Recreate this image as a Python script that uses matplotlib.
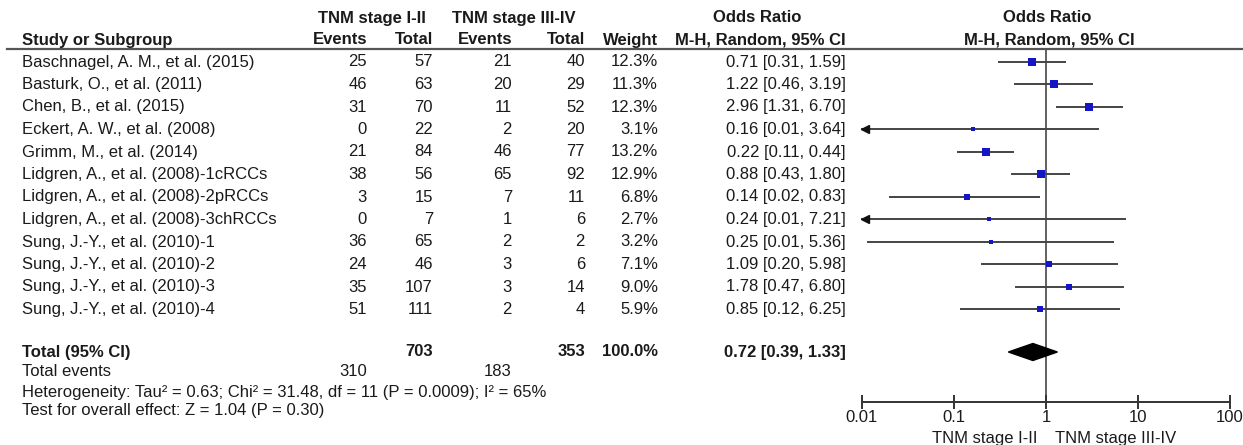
import numpy as np
import matplotlib.pyplot as plt

plt.rcParams['font.family'] = ['Liberation Sans', 'DejaVu Sans']

studies = ['Baschnagel, A. M., et al. (2015)', 'Basturk, O., et al. (2011)',
           'Chen, B., et al. (2015)', 'Eckert, A. W., et al. (2008)',
           'Grimm, M., et al. (2014)', 'Lidgren, A., et al. (2008)-1cRCCs',
           'Lidgren, A., et al. (2008)-2pRCCs', 'Lidgren, A., et al. (2008)-3chRCCs',
           'Sung, J.-Y., et al. (2010)-1', 'Sung, J.-Y., et al. (2010)-2',
           'Sung, J.-Y., et al. (2010)-3', 'Sung, J.-Y., et al. (2010)-4']
ev1 = [25, 46, 31, 0, 21, 38, 3, 0, 36, 24, 35, 51]
tot1 = [57, 63, 70, 22, 84, 56, 15, 7, 65, 46, 107, 111]
ev2 = [21, 20, 11, 2, 46, 65, 7, 1, 2, 3, 3, 2]
tot2 = [40, 29, 52, 20, 77, 92, 11, 6, 2, 6, 14, 4]
weight = [12.3, 11.3, 12.3, 3.1, 13.2, 12.9, 6.8, 2.7, 3.2, 7.1, 9.0, 5.9]
odds = [0.71, 1.22, 2.96, 0.16, 0.22, 0.88, 0.14, 0.24, 0.25, 1.09, 1.78, 0.85]
ci_lo = [0.31, 0.46, 1.31, 0.01, 0.11, 0.43, 0.02, 0.01, 0.01, 0.20, 0.47, 0.12]
ci_hi = [1.59, 3.19, 6.70, 3.64, 0.44, 1.80, 0.83, 7.21, 5.36, 5.98, 6.80, 6.25]
# lower bounds as drawn (rounded text hides whether they pass 0.01)
ci_lo_drawn = [0.31, 0.46, 1.31, 0.007, 0.11, 0.43, 0.02, 0.008, 0.0115, 0.20, 0.47, 0.12]

total = dict(n1=703, n2=353, ev1=310, ev2=183, w='100.0%', orr=0.72, lo=0.39, hi=1.33)
ticks = [0.01, 0.1, 1, 10, 100]
tick_labels = ['0.01', '0.1', '1', '10', '100']

W, H = 1243, 445
fig = plt.figure(figsize=(W / 100, H / 100), dpi=100)
ax = fig.add_axes([0, 0, 1, 1])
ax.set_xlim(0, W)
ax.set_ylim(H, 0)
ax.axis('off')

txt = '#1a1a1a'
fs = 12
row_y = 62 + 22.5 * np.arange(len(studies))
y_tot = 352
line_y = 49
axis_y = 402

# column right edges
c_ev1, c_tot1, c_ev2, c_tot2, c_w, c_or = 367, 433, 512, 585, 658, 846

def t(x, y, s, ha='right', bold=False):
    ax.text(x, y, s, ha=ha, va='center', fontsize=fs, color=txt,
            fontweight='bold' if bold else 'normal')

# headers
t(372, 18, 'TNM stage I-II', ha='center', bold=True)
t(514, 18, 'TNM stage III-IV', ha='center', bold=True)
t(757, 18, 'Odds Ratio', ha='center', bold=True)
t(1047, 18, 'Odds Ratio', ha='center', bold=True)
t(22, 40, 'Study or Subgroup', ha='left', bold=True)
for x, s in [(c_ev1, 'Events'), (c_tot1, 'Total'), (c_ev2, 'Events'),
             (c_tot2, 'Total'), (c_w, 'Weight'), (c_or, 'M-H, Random, 95% CI')]:
    t(x, 40, s, bold=True)
t(1049, 40, 'M-H, Random, 95% CI', ha='center', bold=True)
ax.plot([7, W], [line_y, line_y], color='#555555', lw=1.6)

for i, y in enumerate(row_y):
    t(22, y, studies[i], ha='left')
    t(c_ev1, y, str(ev1[i]))
    t(c_tot1, y, str(tot1[i]))
    t(c_ev2, y, str(ev2[i]))
    t(c_tot2, y, str(tot2[i]))
    t(c_w, y, f'{weight[i]:.1f}%')
    t(c_or, y, f'{odds[i]:.2f} [{ci_lo[i]:.2f}, {ci_hi[i]:.2f}]')

t(22, y_tot, 'Total (95% CI)', ha='left', bold=True)
t(c_tot1, y_tot, str(total['n1']), bold=True)
t(c_tot2, y_tot, str(total['n2']), bold=True)
t(c_w, y_tot, total['w'], bold=True)
t(c_or, y_tot, f"{total['orr']:.2f} [{total['lo']:.2f}, {total['hi']:.2f}]", bold=True)
t(22, 372, 'Total events', ha='left')
t(c_ev1, 372, str(total['ev1']))
t(c_ev2, 372, str(total['ev2']))
t(22, 392, 'Heterogeneity: Tau\u00b2 = 0.63; Chi\u00b2 = 31.48, df = 11 (P = 0.0009); I\u00b2 = 65%', ha='left')
t(22, 411, 'Test for overall effect: Z = 1.04 (P = 0.30)', ha='left')

# forest panel
x0, x1 = 862, 1230
fx = fig.add_axes([x0 / W, 1 - axis_y / H, (x1 - x0) / W, (axis_y - line_y) / H])
fx.set_xscale('log')
fx.set_xlim(0.01, 100)
fx.set_ylim(axis_y, line_y)
fx.patch.set_alpha(0)
for s in ['top', 'left', 'right']:
    fx.spines[s].set_visible(False)
fx.spines['bottom'].set_color('#333333')
fx.spines['bottom'].set_linewidth(1.4)
fx.set_yticks([])
fx.set_xticks(ticks)
fx.set_xticklabels(tick_labels, fontsize=fs, color=txt)
fx.minorticks_off()
fx.tick_params(axis='x', direction='inout', length=10, width=1.4, color='#333333', pad=1)
fx.axvline(1, color='#555555', lw=1.3, zorder=1)

wmax = max(weight)
for i, y in enumerate(row_y):
    lo = max(ci_lo_drawn[i], 0.01)
    fx.plot([lo, ci_hi[i]], [y, y], color='#444444', lw=1.4, zorder=2, clip_on=False)
    if ci_lo_drawn[i] < 0.01:
        fx.plot([0.0108], [y], marker='<', color='#111111', markersize=5.5, zorder=3, clip_on=False)
    fx.plot([odds[i]], [y], marker='s', color='#1515c8', markeredgewidth=0,
            markersize=5.2 * np.sqrt(weight[i] / wmax) + 0.6, zorder=4)

dh = 8.5
fx.fill([total['lo'], total['orr'], total['hi'], total['orr']],
        [y_tot, y_tot - dh, y_tot, y_tot + dh], color='black', zorder=4, clip_on=False)

ax.text(1038, 439, 'TNM stage I-II', ha='right', va='center', fontsize=fs, color=txt)
ax.text(1055, 439, 'TNM stage III-IV', ha='left', va='center', fontsize=fs, color=txt)

fig.savefig('out.png', dpi=100)
